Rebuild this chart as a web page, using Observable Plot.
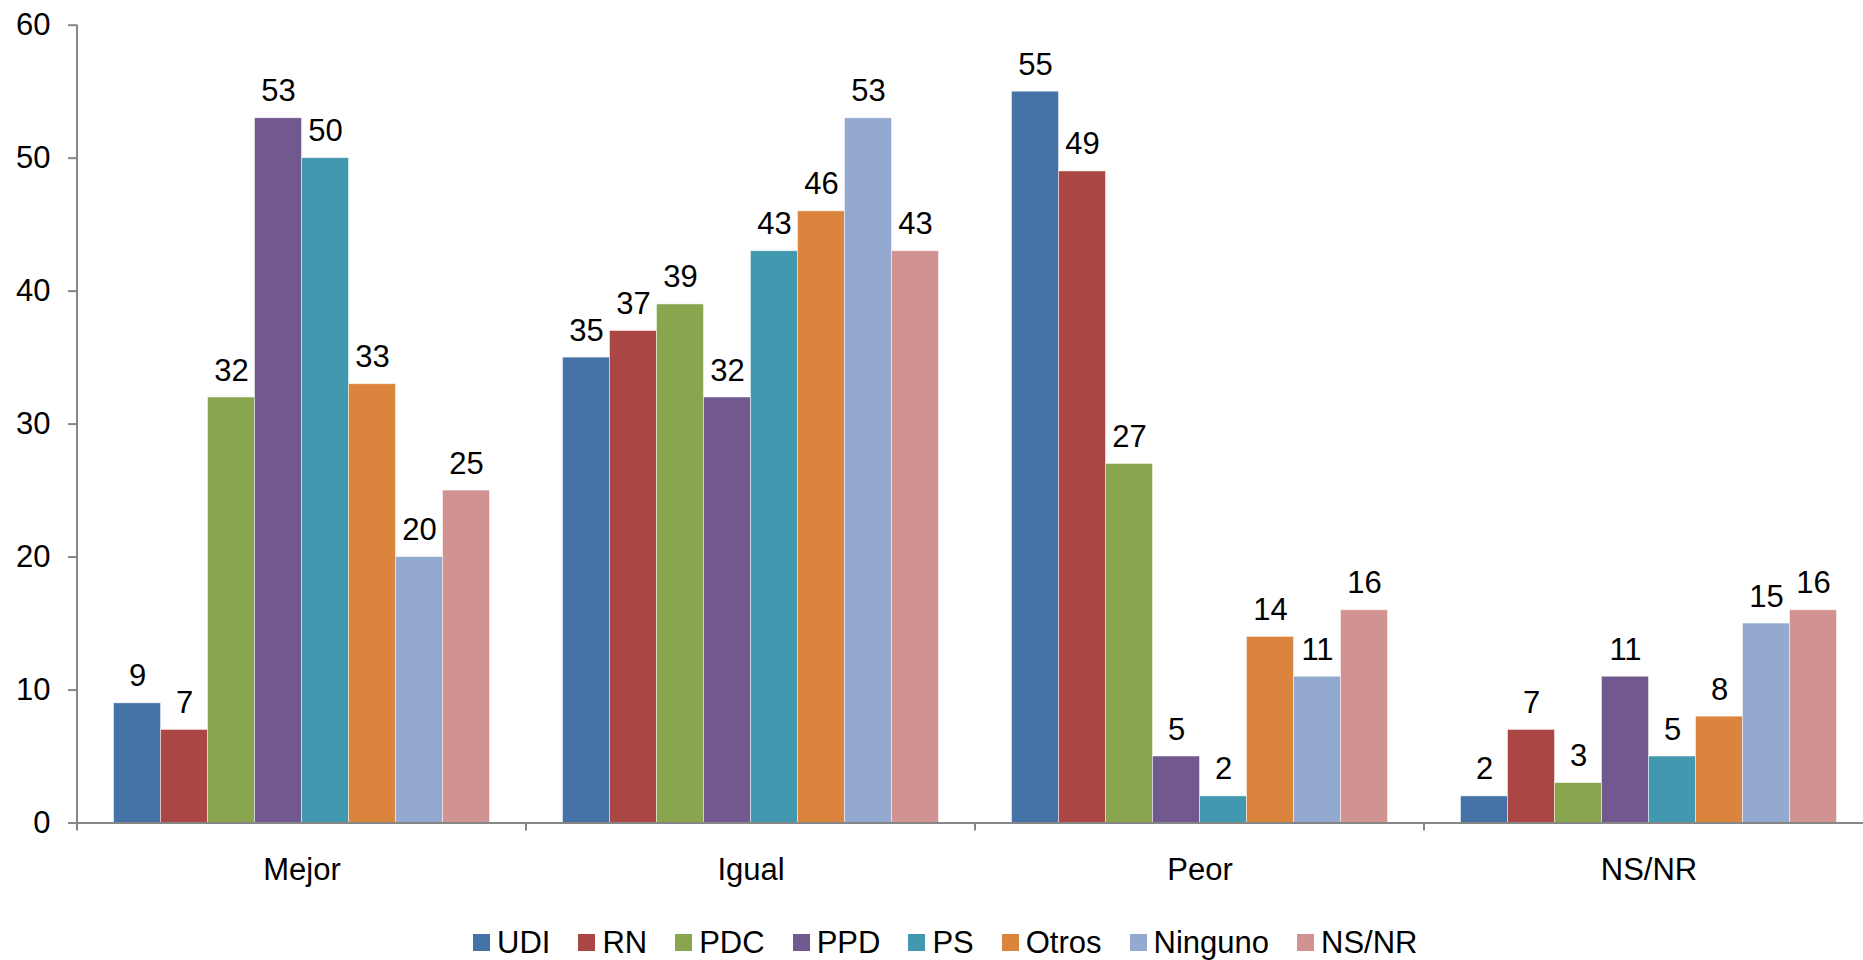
<!DOCTYPE html>
<html>
<head>
<meta charset="utf-8">
<script src="https://cdn.jsdelivr.net/npm/d3@7"></script>
<script src="https://cdn.jsdelivr.net/npm/@observablehq/plot@0.6"></script>
<style>
  html, body { margin: 0; padding: 0; background: #fff; overflow: hidden; }
  body { font-family: "Liberation Sans", Arial, sans-serif; }
  #legend { display: flex; align-items: center; height: 55px; padding-left: 473px; font-size: 31px; color: #000; }
  #legend .item { display: flex; align-items: center; margin-right: 28px; }
  #legend .sw { width: 17px; height: 17px; margin-right: 7px; }
</style>
</head>
<body>
<div id="chart"></div>
<div id="legend"></div>
<script>
const categories = ["Mejor", "Igual", "Peor", "NS/NR"];
const parties = ["UDI", "RN", "PDC", "PPD", "PS", "Otros", "Ninguno", "NS/NR"];
const colors = ["#4572A7", "#AA4643", "#89A54E", "#71588F", "#4198AF", "#DB843D", "#93A9CF", "#D19392"];
const valuesMejor = [9, 7, 32, 53, 50, 33, 20, 25];
const valuesIgual = [35, 37, 39, 32, 43, 46, 53, 43];
const valuesPeor = [55, 49, 27, 5, 2, 14, 11, 16];
const valuesNSNR = [2, 7, 3, 11, 5, 8, 15, 16];
const yTicks = [0, 10, 20, 30, 40, 50, 60];

const series = [valuesMejor, valuesIgual, valuesPeor, valuesNSNR];
const data = [];
categories.forEach((cat, i) => {
  parties.forEach((p, j) => data.push({cat, party: p, value: series[i][j]}));
});

const font = "Liberation Sans, Arial, sans-serif";
const chart = Plot.plot({
  width: 1863,
  height: 915,
  marginLeft: 76.5,
  marginRight: -11,
  marginTop: 24.7,
  marginBottom: 92.5,
  style: {fontFamily: font, fontSize: "31px", color: "#000", background: "#fff", overflow: "visible"},
  fx: {domain: categories, padding: 0, label: null},
  x: {domain: parties, paddingInner: 0, paddingOuter: 0.75, axis: null},
  y: {domain: [0, 60], range: [822.5, 24.7], label: null},
  color: {domain: parties, range: colors},
  marks: [
    Plot.barY(data, {fx: "cat", x: "party", y: "value", fill: "party", stroke: "#fff", strokeWidth: 0.8, strokeOpacity: 0.6}),
    Plot.text(data, {fx: "cat", x: "party", y: "value", text: d => String(d.value), lineAnchor: "bottom", dy: -17, fontSize: 31, fill: "#000"}),
    Plot.ruleY([0], {stroke: "#868686", strokeWidth: 2}),
    Plot.axisY({ticks: yTicks, tickSize: 9, text: null, stroke: "#868686", strokeWidth: 2, label: null}),
    Plot.axisY({ticks: yTicks, tickSize: 0, tickPadding: 27, fontSize: 31, fill: "#000", label: null, tickFormat: d => String(d)}),
    Plot.axisFx({anchor: "bottom", tickSize: 0, tickPadding: 35, fontSize: 31, fill: "#000", label: null})
  ]
});
document.getElementById("chart").appendChild(chart);

// Y axis line and group boundary ticks from the plot's own scales
const fx = chart.scale("fx");
const y = chart.scale("y");
const svg = d3.select(chart);
const x0 = fx.apply(categories[0]);
const g = svg.append("g").attr("stroke", "#868686").attr("stroke-width", 2);
g.append("line").attr("x1", x0).attr("x2", x0).attr("y1", y.apply(60)).attr("y2", y.apply(0));
const bounds = categories.map(c => fx.apply(c)).concat([fx.apply(categories[categories.length - 1]) + fx.step]);
bounds.forEach(b => {
  g.append("line").attr("x1", b).attr("x2", b).attr("y1", y.apply(0)).attr("y2", y.apply(0) + 8);
});

// Legend
const legend = d3.select("#legend");
parties.forEach((p, i) => {
  const item = legend.append("div").attr("class", "item");
  item.append("div").attr("class", "sw").style("background", colors[i]);
  item.append("span").text(p);
});
</script>
</body>
</html>
